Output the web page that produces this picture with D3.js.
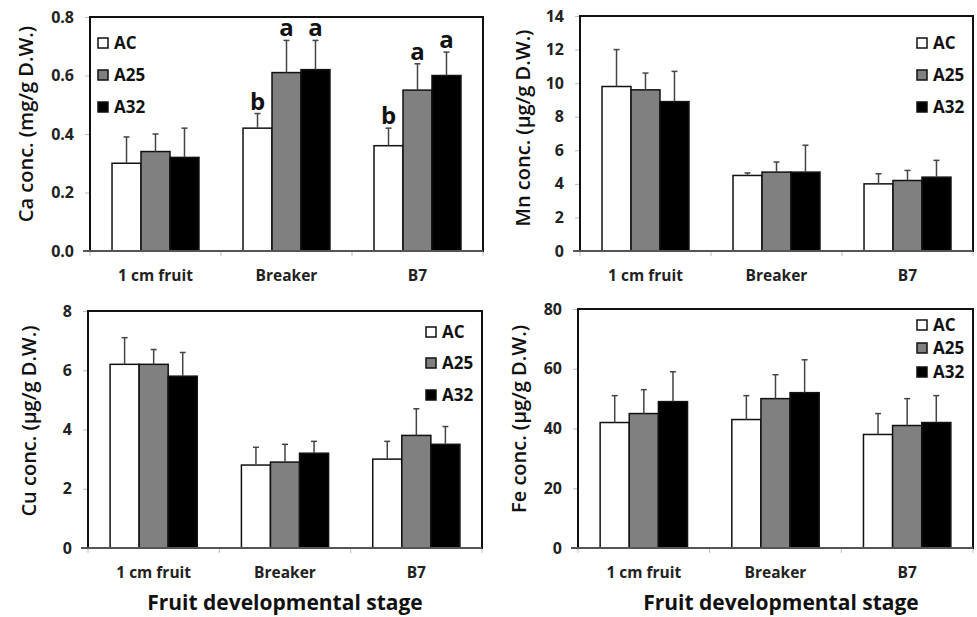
<!DOCTYPE html>
<html>
<head>
<meta charset="utf-8">
<script src="https://cdn.jsdelivr.net/npm/d3@7"></script>
<style>
  body { margin: 0; background: #fff; }
  text { font-family: "Open Sans", "Noto Sans", sans-serif; }
</style>
</head>
<body>
<svg id="chart" width="977" height="617"></svg>
<script>
// Data
const stages = ["1 cm fruit", "Breaker", "B7"];
const lines = ["AC", "A25", "A32"];
const fills = ["#ffffff", "#808080", "#000000"];

// means [stage][line], sd = upper error bar length
const caMean = [[0.30, 0.34, 0.32], [0.42, 0.61, 0.62], [0.36, 0.55, 0.60]];
const caSd   = [[0.09, 0.06, 0.10], [0.05, 0.11, 0.10], [0.06, 0.09, 0.08]];
const caLetters = [["", "", ""], ["b", "a", "a"], ["b", "a", "a"]];

const mnMean = [[9.8, 9.6, 8.9], [4.5, 4.7, 4.7], [4.0, 4.2, 4.4]];
const mnSd   = [[2.2, 1.0, 1.8], [0.15, 0.6, 1.6], [0.6, 0.6, 1.0]];

const cuMean = [[6.2, 6.2, 5.8], [2.8, 2.9, 3.2], [3.0, 3.8, 3.5]];
const cuSd   = [[0.9, 0.5, 0.8], [0.6, 0.6, 0.4], [0.6, 0.9, 0.6]];

const feMean = [[42, 45, 49], [43, 50, 52], [38, 41, 42]];
const feSd   = [[9, 8, 10], [8, 8, 11], [7, 9, 9]];

const caTicks = [0, 0.2, 0.4, 0.6, 0.8];
const mnTicks = [0, 2, 4, 6, 8, 10, 12, 14];
const cuTicks = [0, 2, 4, 6, 8];
const feTicks = [0, 20, 40, 60, 80];

const xTitle = "Fruit developmental stage";

const svg = d3.select("#chart");

const panels = [
  { mean: caMean, sd: caSd, letters: caLetters, ticks: caTicks, fmt: d3.format(".1f"),
    title: "Ca conc. (mg/g D.W.)", left: 90, right: 483, top: 17, bottom: 251,
    titleX: 26, titleY: 124, legX: 98, legY: [43, 75, 107], showX: false },
  { mean: mnMean, sd: mnSd, letters: null, ticks: mnTicks, fmt: d3.format("d"),
    title: "Mn conc. (\u00b5g/g D.W.)", left: 580, right: 973, top: 16, bottom: 251,
    titleX: 523, titleY: 128, legX: 917, legY: [43, 75, 107], showX: false },
  { mean: cuMean, sd: cuSd, letters: null, ticks: cuTicks, fmt: d3.format("d"),
    title: "Cu conc. (\u00b5g/g D.W.)", left: 88, right: 482, top: 311, bottom: 548,
    titleX: 29, titleY: 421, legX: 426, legY: [332, 363, 395], showX: true, xTitleX: 285 },
  { mean: feMean, sd: feSd, letters: null, ticks: feTicks, fmt: d3.format("d"),
    title: "Fe conc. (\u00b5g/g D.W.)", left: 578, right: 973, top: 309, bottom: 548,
    titleX: 519, titleY: 419, legX: 917, legY: [325, 348, 372], showX: true, xTitleX: 781 }
];

panels.forEach(drawPanel);

function drawPanel(p) {
  const g = svg.append("g");

  const x0 = d3.scaleBand().domain(stages).range([p.left, p.right]).padding(0);
  const x1 = d3.scaleBand().domain(lines).range([0, x0.bandwidth()])
    .paddingInner(0).paddingOuter(0.76);
  const y = d3.scaleLinear()
    .domain([0, p.ticks[p.ticks.length - 1]])
    .range([p.bottom, p.top]);

  // y axis ticks + labels
  const yAxis = g.append("g")
    .attr("transform", `translate(${p.left},0)`)
    .call(d3.axisLeft(y).tickValues(p.ticks).tickFormat(p.fmt).tickSize(5).tickPadding(11));
  yAxis.select(".domain").remove();
  yAxis.selectAll(".tick line").attr("stroke", "#bbb");
  yAxis.selectAll(".tick text")
    .attr("font-size", 16).attr("font-weight", "bold").attr("fill", "#222")
    .style("font-family", '"Open Sans", sans-serif');

  // category edge ticks
  const edges = stages.map(s => x0(s)).concat([p.right]);
  g.selectAll(".edge").data(edges).join("line")
    .attr("x1", d => d).attr("x2", d => d)
    .attr("y1", p.bottom).attr("y2", p.bottom + 5)
    .attr("stroke", "#bbb");

  // bars
  const groups = g.selectAll(".grp").data(stages).join("g")
    .attr("transform", s => `translate(${x0(s)},0)`);

  groups.each(function (s, si) {
    const gg = d3.select(this);
    const rows = lines.map((l, li) => ({
      l, li, v: p.mean[si][li], e: p.sd[si][li],
      lab: p.letters ? p.letters[si][li] : ""
    }));

    gg.selectAll("rect").data(rows).join("rect")
      .attr("x", d => x1(d.l))
      .attr("y", d => y(d.v))
      .attr("width", x1.bandwidth())
      .attr("height", d => y(0) - y(d.v))
      .attr("fill", d => fills[d.li])
      .attr("stroke", "#111")
      .attr("stroke-width", 1.5);

    const cx = d => x1(d.l) + x1.bandwidth() / 2;
    gg.selectAll(".eb").data(rows).join("line")
      .attr("x1", cx).attr("x2", cx)
      .attr("y1", d => y(d.v)).attr("y2", d => y(d.v + d.e))
      .attr("stroke", "#444").attr("stroke-width", 1.5);
    gg.selectAll(".cap").data(rows).join("line")
      .attr("x1", d => cx(d) - 3).attr("x2", d => cx(d) + 3)
      .attr("y1", d => y(d.v + d.e)).attr("y2", d => y(d.v + d.e))
      .attr("stroke", "#444").attr("stroke-width", 1.5);

    gg.selectAll(".lab").data(rows.filter(d => d.lab)).join("text")
      .attr("x", cx)
      .attr("y", d => y(d.v + d.e) - 4)
      .attr("text-anchor", "middle")
      .attr("font-size", 24).attr("font-weight", "bold").attr("fill", "#111")
      .text(d => d.lab);
  });

  // frame
  g.append("rect")
    .attr("x", p.left).attr("y", p.top)
    .attr("width", p.right - p.left).attr("height", p.bottom - p.top)
    .attr("fill", "none").attr("stroke", "#111").attr("stroke-width", 2);
  g.append("line")
    .attr("x1", p.left - 7).attr("x2", p.right)
    .attr("y1", p.bottom).attr("y2", p.bottom)
    .attr("stroke", "#555").attr("stroke-width", 2);

  // category labels
  g.selectAll(".cat").data(stages).join("text")
    .attr("x", s => x0(s) + x0.bandwidth() / 2)
    .attr("y", p.bottom + 25)
    .attr("dy", "0.35em")
    .attr("text-anchor", "middle")
    .attr("font-size", 15.5).attr("font-weight", "bold").attr("fill", "#222")
    .text(s => s);

  // y title
  g.append("text")
    .attr("transform", `translate(${p.titleX},${p.titleY}) rotate(-90)`)
    .attr("text-anchor", "middle")
    .attr("dy", "0.35em")
    .attr("font-size", 20).attr("font-weight", 600).attr("fill", "#111")
    .text(p.title);

  // x title
  if (p.showX) {
    g.append("text")
      .attr("x", p.xTitleX).attr("y", 603)
      .attr("dy", "0.35em")
      .attr("text-anchor", "middle")
      .attr("font-size", 21).attr("font-weight", "bold").attr("fill", "#111")
      .text(xTitle);
  }

  // legend
  const leg = g.selectAll(".leg").data(lines).join("g")
    .attr("transform", (d, i) => `translate(${p.legX},${p.legY[i]})`);
  leg.append("rect")
    .attr("x", 0).attr("y", -5).attr("width", 10).attr("height", 10)
    .attr("fill", (d, i) => fills[i]).attr("stroke", "#111").attr("stroke-width", 1.5);
  leg.append("text")
    .attr("x", 16).attr("dy", "0.35em")
    .attr("font-size", 17).attr("font-weight", "bold").attr("fill", "#111")
    .text(d => d);
}
</script>
</body>
</html>
